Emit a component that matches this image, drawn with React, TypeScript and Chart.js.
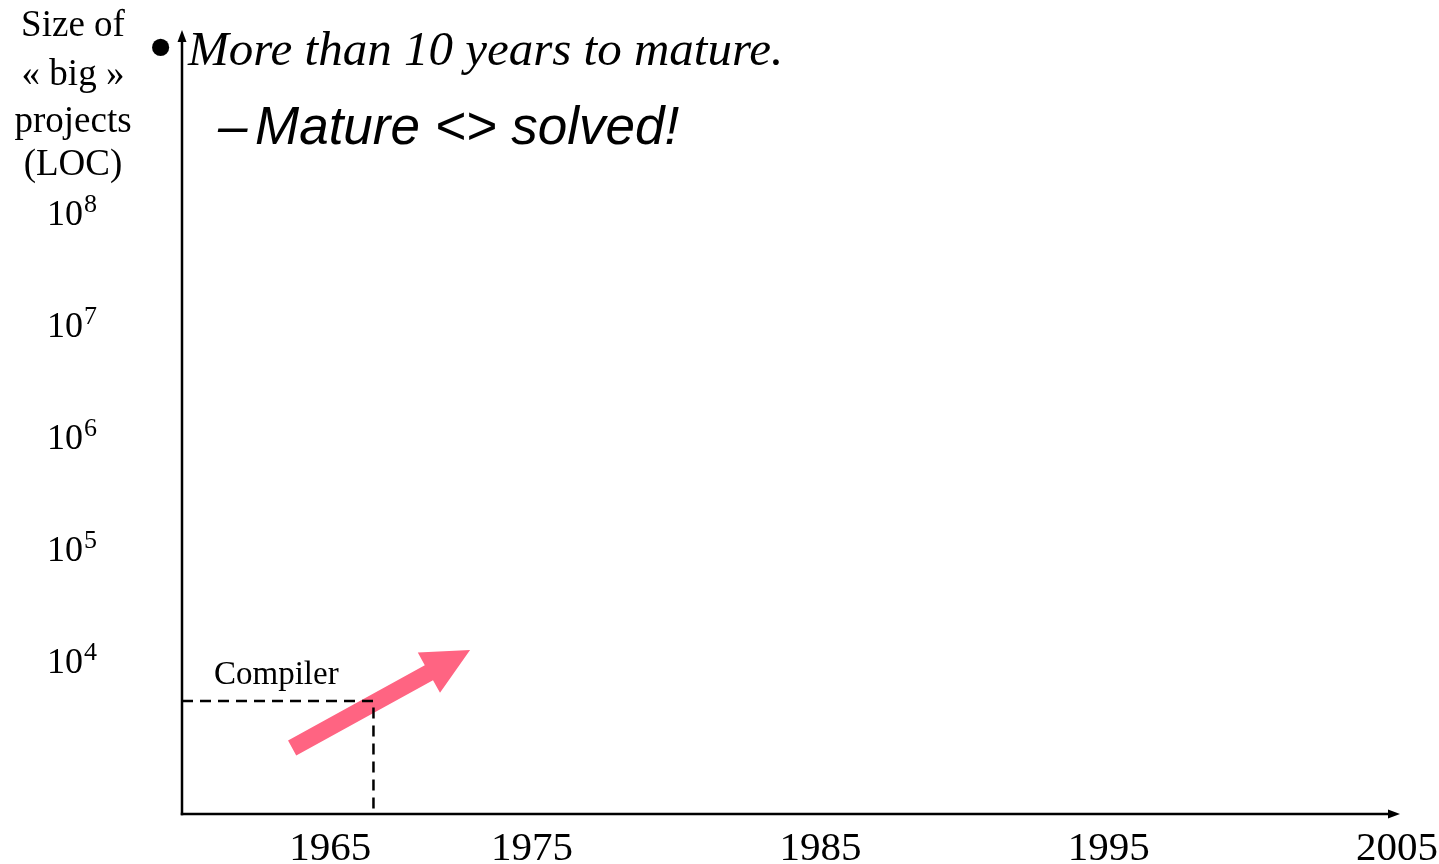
import React, { useEffect, useRef } from "react";
import { Chart, registerables } from "chart.js";

Chart.register(...registerables);

// ---- data ----
const xMin = 1962.86;
const xMax = 2005.1;
const yMin = 422;
const yMax = 4.22e9;
const xTickValues = [1968, 1975, 1985, 1995, 2005];
const xTickLabels = ["1965", "1975", "1985", "1995", "2005"];
const yTickExponents = [4, 5, 6, 7, 8];
const compilerLabel = "Compiler";
const compilerYear = 1969.5;
const compilerLOC = 4300;
const arrowYears = [1966.68, 1972.85];
const arrowLOC = [1637, 12280];
const yTitleLines = ["Size of", "« big »", "projects", "(LOC)"];
const bulletText = "More than 10 years to mature.";
const subText = "Mature <> solved!";

const SERIF = "'Liberation Serif', 'DejaVu Serif', serif";
const SANS = "'Liberation Sans', Arial, sans-serif";

const decorPlugin = {
  id: "decor",
  beforeDatasetsDraw(chart: any) {
    const { ctx, scales } = chart;
    const x = scales.x;
    const y = scales.y;
    // pink arrow
    const sx = x.getPixelForValue(arrowYears[0]);
    const sy = y.getPixelForValue(arrowLOC[0]);
    const tx = x.getPixelForValue(arrowYears[1]);
    const ty = y.getPixelForValue(arrowLOC[1]);
    const dx = tx - sx;
    const dy = ty - sy;
    const len = Math.hypot(dx, dy);
    const ux = dx / len;
    const uy = dy / len;
    const nx = -uy;
    const ny = ux;
    const headLen = 47;
    const headHalf = 23;
    const shaftHalf = 8.5;
    const bx = tx - ux * headLen;
    const by = ty - uy * headLen;
    ctx.save();
    ctx.fillStyle = "#FF6482";
    ctx.beginPath();
    ctx.moveTo(sx + nx * shaftHalf, sy + ny * shaftHalf);
    ctx.lineTo(bx + nx * shaftHalf, by + ny * shaftHalf);
    ctx.lineTo(bx + nx * headHalf, by + ny * headHalf);
    ctx.lineTo(tx, ty);
    ctx.lineTo(bx - nx * headHalf, by - ny * headHalf);
    ctx.lineTo(bx - nx * shaftHalf, by - ny * shaftHalf);
    ctx.lineTo(sx - nx * shaftHalf, sy - ny * shaftHalf);
    ctx.closePath();
    ctx.fill();
    ctx.restore();
  },
  afterDraw(chart: any) {
    const { ctx, chartArea, scales } = chart;
    const x = scales.x;
    const y = scales.y;
    const left = chartArea.left;
    const bottom = chartArea.bottom;
    const top = chartArea.top;
    const right = chartArea.right;
    ctx.save();
    ctx.strokeStyle = "#000";
    ctx.fillStyle = "#000";
    ctx.lineWidth = 2.5;
    // y axis
    ctx.beginPath();
    ctx.moveTo(left, bottom + 1.25);
    ctx.lineTo(left, top + 8);
    ctx.stroke();
    ctx.beginPath();
    ctx.moveTo(left, top);
    ctx.lineTo(left - 4.5, top + 12);
    ctx.lineTo(left + 4.5, top + 12);
    ctx.closePath();
    ctx.fill();
    // x axis
    ctx.beginPath();
    ctx.moveTo(left - 1.25, bottom);
    ctx.lineTo(right - 8, bottom);
    ctx.stroke();
    ctx.beginPath();
    ctx.moveTo(right, bottom);
    ctx.lineTo(right - 12, bottom - 4.5);
    ctx.lineTo(right - 12, bottom + 4.5);
    ctx.closePath();
    ctx.fill();

    // x tick labels
    ctx.font = `41px ${SERIF}`;
    ctx.textAlign = "center";
    ctx.textBaseline = "alphabetic";
    xTickValues.forEach((v, i) => {
      ctx.fillText(xTickLabels[i], x.getPixelForValue(v), 860);
    });

    // y tick labels 10^k
    yTickExponents.forEach((e) => {
      const py = y.getPixelForValue(Math.pow(10, e));
      const base = py + 13;
      ctx.textAlign = "left";
      ctx.font = `36px ${SERIF}`;
      ctx.fillText("10", 47, base);
      const w = ctx.measureText("10").width;
      ctx.font = `26px ${SERIF}`;
      ctx.fillText(String(e), 47 + w + 1, base - 13);
    });

    // y title
    ctx.textAlign = "center";
    ctx.font = `37px ${SERIF}`;
    const titleBases = [36, 85, 132, 175];
    yTitleLines.forEach((t, i) => ctx.fillText(t, 73, titleBases[i]));

    // compiler label
    ctx.textAlign = "left";
    ctx.font = `33px ${SERIF}`;
    ctx.fillText(compilerLabel, 214, y.getPixelForValue(compilerLOC) - 17);

    // bullet text
    ctx.font = `72px ${SERIF}`;
    ctx.fillText("•", 148, 71);
    ctx.font = `italic 49px ${SERIF}`;
    ctx.fillText(bulletText, 188, 65);

    // sub text
    ctx.font = `italic 53px ${SANS}`;
    ctx.fillText("–", 218, 144);
    ctx.fillText(subText, 255, 144);
    ctx.restore();
  },
};

export default function App() {
  const canvasRef = useRef<HTMLCanvasElement | null>(null);
  useEffect(() => {
    const canvas = canvasRef.current;
    if (!canvas) return;
    const chart = new Chart(canvas, {
      type: "line",
      data: {
        datasets: [
          {
            label: compilerLabel,
            data: [
              { x: xMin, y: compilerLOC },
              { x: compilerYear, y: compilerLOC },
              { x: compilerYear, y: yMin },
            ],
            borderColor: "#000",
            borderWidth: 2.5,
            borderDash: [11, 7],
            pointRadius: 0,
            tension: 0,
            fill: false,
          },
        ],
      },
      options: {
        animation: false,
        responsive: false,
        maintainAspectRatio: false,
        layout: { padding: { left: 182, right: 39, top: 30, bottom: 50 } },
        plugins: {
          legend: { display: false },
          tooltip: { enabled: false },
          title: { display: false },
        },
        scales: {
          x: { type: "linear", display: false, min: xMin, max: xMax },
          y: { type: "logarithmic", display: false, min: yMin, max: yMax },
        },
      },
      plugins: [decorPlugin],
    });
    return () => chart.destroy();
  }, []);
  return (
    <div style={{ position: "fixed", left: 0, top: 0, width: 1439, height: 864, background: "#fff" }}>
      <canvas ref={canvasRef} width={1439} height={864} style={{ display: "block", width: 1439, height: 864 }} />
    </div>
  );
}
